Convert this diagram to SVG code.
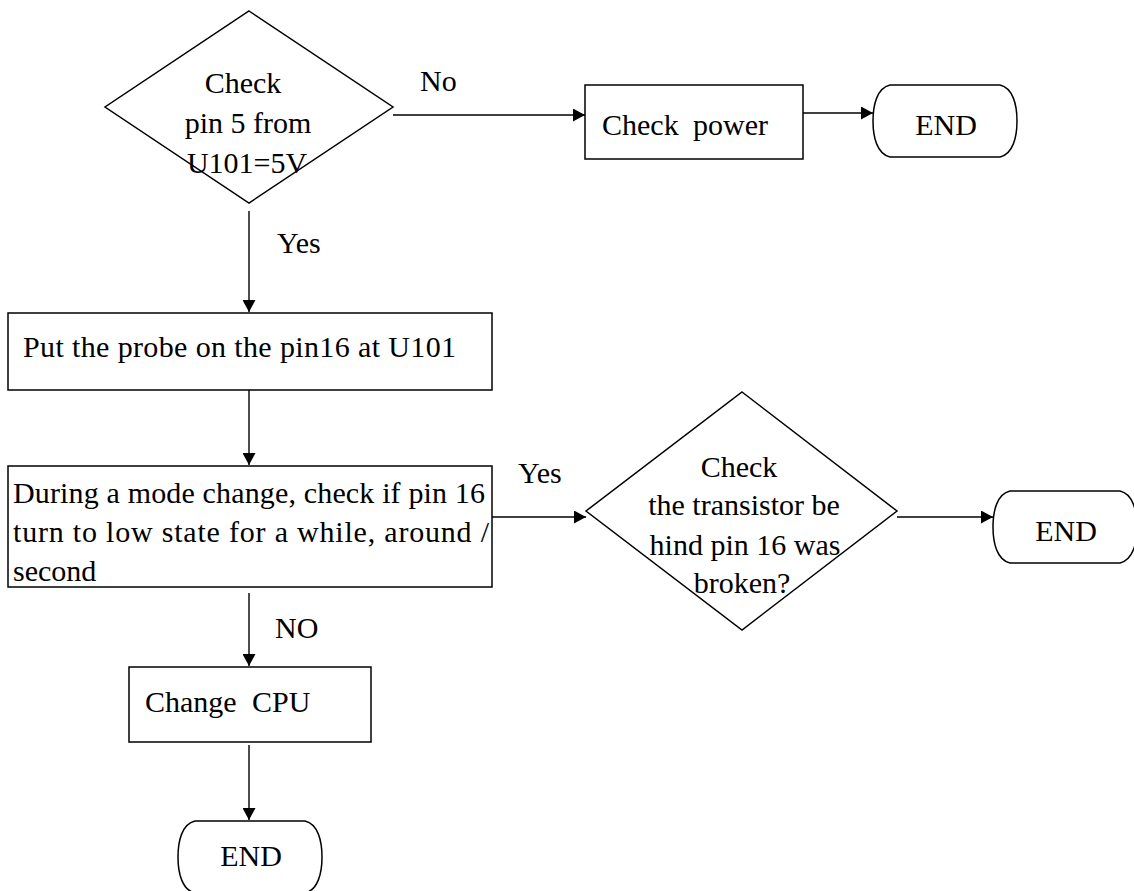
<svg xmlns="http://www.w3.org/2000/svg" width="1134" height="891" viewBox="0 0 1134 891">
<style>
.s{fill:#fff;stroke:#000;stroke-width:1.5}
.t{font-size:30px;fill:#000}
.m{text-anchor:middle}
.c{fill:none;stroke:#000;stroke-width:1.4}
</style>
<defs>
<marker id="ah" markerUnits="userSpaceOnUse" markerWidth="12" markerHeight="13" refX="12" refY="6.5" orient="auto">
<path d="M0,0 L12,6.5 L0,13 Z" fill="#000"/>
</marker>
</defs>
<rect width="1134" height="891" fill="#fff"/>
<g font-family="Liberation Serif, Times New Roman, serif">
<g id="connectors">
<line class="c" x1="393" y1="115" x2="585" y2="115" marker-end="url(#ah)"/>
<line class="c" x1="803" y1="113" x2="873" y2="113" marker-end="url(#ah)"/>
<line class="c" x1="249" y1="211" x2="249" y2="312" marker-end="url(#ah)"/>
<line class="c" x1="249" y1="390" x2="249" y2="465" marker-end="url(#ah)"/>
<line class="c" x1="492" y1="517" x2="586" y2="517" marker-end="url(#ah)"/>
<line class="c" x1="897" y1="517" x2="993" y2="517" marker-end="url(#ah)"/>
<line class="c" x1="249" y1="593" x2="249" y2="666" marker-end="url(#ah)"/>
<line class="c" x1="249" y1="745" x2="249" y2="820" marker-end="url(#ah)"/>
<text class="t" x="420" y="91">No</text>
<text class="t" x="277" y="253">Yes</text>
<text class="t" x="518" y="483">Yes</text>
<text class="t" x="275" y="638">NO</text>
</g>
<g id="decision1">
<polygon class="s" points="249,11 393,107 249,203 105,107"/>
<text class="t m" x="243" y="93">Check</text>
<text class="t m" x="248" y="133">pin 5 from</text>
<text class="t m" x="247" y="173">U101=5V</text>
</g>
<g id="checkpower">
<rect class="s" x="585" y="85" width="218" height="74"/>
<text class="t" x="602" y="135">Check<tspan x="693">power</tspan></text>
</g>
<g id="end1">
<path class="s" d="M890,85 L1000,85 C1013,88 1017,105 1017,121 C1017,137 1013,154 1000,157 L890,157 C877,154 873,137 873,121 C873,105 877,88 890,85 Z"/>
<text class="t m" x="946" y="135">END</text>
</g>
<g id="probe">
<rect class="s" x="8" y="313" width="484" height="77"/>
<text class="t" x="23" y="357" textLength="433" lengthAdjust="spacing">Put the probe on the pin16 at U101</text>
</g>
<g id="modechange">
<rect class="s" x="8" y="466" width="484" height="121"/>
<text class="t" x="13" y="503" textLength="472" lengthAdjust="spacing">During a mode change, check if pin 16</text>
<text class="t" x="13" y="542" textLength="476" lengthAdjust="spacing">turn to low state for a while, around /</text>
<text class="t" x="13" y="581">second</text>
</g>
<g id="decision2">
<polygon class="s" points="742,392 897,511 742,630 586,511"/>
<text class="t m" x="739" y="477">Check</text>
<text class="t m" x="744" y="515">the transistor be</text>
<text class="t m" x="745" y="555">hind pin 16 was</text>
<text class="t m" x="742" y="593">broken?</text>
</g>
<g id="end2">
<path class="s" d="M1010,491 L1120,491 C1133,494 1137,511 1137,527 C1137,543 1133,560 1120,563 L1010,563 C997,560 993,543 993,527 C993,511 997,494 1010,491 Z"/>
<text class="t m" x="1066" y="541">END</text>
</g>
<g id="changecpu">
<rect class="s" x="129" y="667" width="242" height="75"/>
<text class="t" x="145" y="712">Change<tspan x="252">CPU</tspan></text>
</g>
<g id="end3">
<path class="s" d="M195,821 L305,821 C318,824 322,841 322,857 C322,873 318,890 305,893 L195,893 C182,890 178,873 178,857 C178,841 182,824 195,821 Z"/>
<text class="t m" x="251" y="866">END</text>
</g>
</g>
</svg>
